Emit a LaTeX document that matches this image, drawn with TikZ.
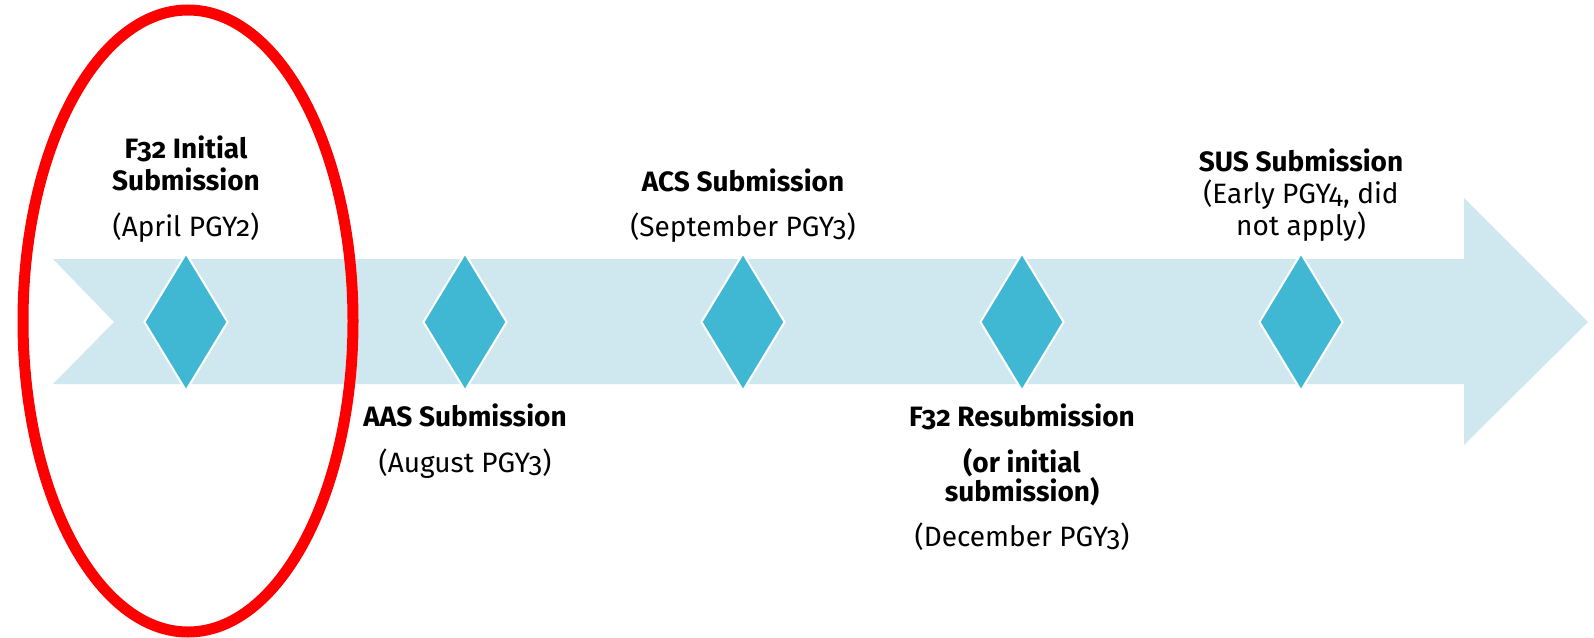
\documentclass[tikz,border=0pt]{standalone}
\usepackage{fontspec}
\setmainfont{Fira Sans}[Numbers=OldStyle]
\usetikzlibrary{shapes.geometric}
\definecolor{band}{HTML}{CFE7EF}
\definecolor{gem}{HTML}{41B8D3}
\definecolor{ring}{HTML}{FF0000}
\begin{document}
\begin{tikzpicture}[x=1pt,y=-1pt,
  gemstyle/.style={diamond, fill=gem, draw=white, line width=2pt, inner sep=0pt,
                   minimum width=84pt, minimum height=138pt},
  head/.style={anchor=base, inner sep=0pt, font=\fontsize{28}{32}\selectfont\bfseries},
  date/.style={anchor=base, inner sep=0pt, font=\fontsize{28}{32}\selectfont}]
  \useasboundingbox (0,0) rectangle (1594,637);
  % timeline band with notched tail and arrow head
  \fill[band] (53,259) -- (1464,259) -- (1464,198) -- (1588,322) -- (1464,445)
     -- (1464,384) -- (53,384) -- (114,322) -- cycle;
  % milestones
  \node[gemstyle] (d1) at (186,322) {};
  \node[gemstyle] (d2) at (465,322) {};
  \node[gemstyle] (d3) at (743,322) {};
  \node[gemstyle] (d4) at (1022,322) {};
  \node[gemstyle] (d5) at (1301,322) {};
  % highlight ring around the first milestone
  \draw[ring, line width=11pt] (188,321) ellipse [x radius=165, y radius=311];
  % labels above the band
  \node[head] (t1a) at (186,158) {F32 Initial};
  \node[head] (t1b) at (186,190) {Submission};
  \node[date] (t1c) at (186,236) {(April PGY2)};
  \node[head] (t3a) at (743,191) {ACS Submission};
  \node[date] (t3b) at (743,236) {(September PGY3)};
  \node[head] (t5a) at (1301,171) {SUS Submission};
  \node[date] (t5b) at (1301,203) {(Early PGY4, did};
  \node[date] (t5c) at (1301,235) {not apply)};
  % labels below the band
  \node[head] (t2a) at (465,426) {AAS Submission};
  \node[date] (t2b) at (465,472) {(August PGY3)};
  \node[head] (t4a) at (1022,426) {F32 Resubmission};
  \node[head] (t4b) at (1022,472) {(or initial};
  \node[head] (t4c) at (1022,501) {submission)};
  \node[date] (t4d) at (1022,546) {(December PGY3)};
\end{tikzpicture}
\end{document}
